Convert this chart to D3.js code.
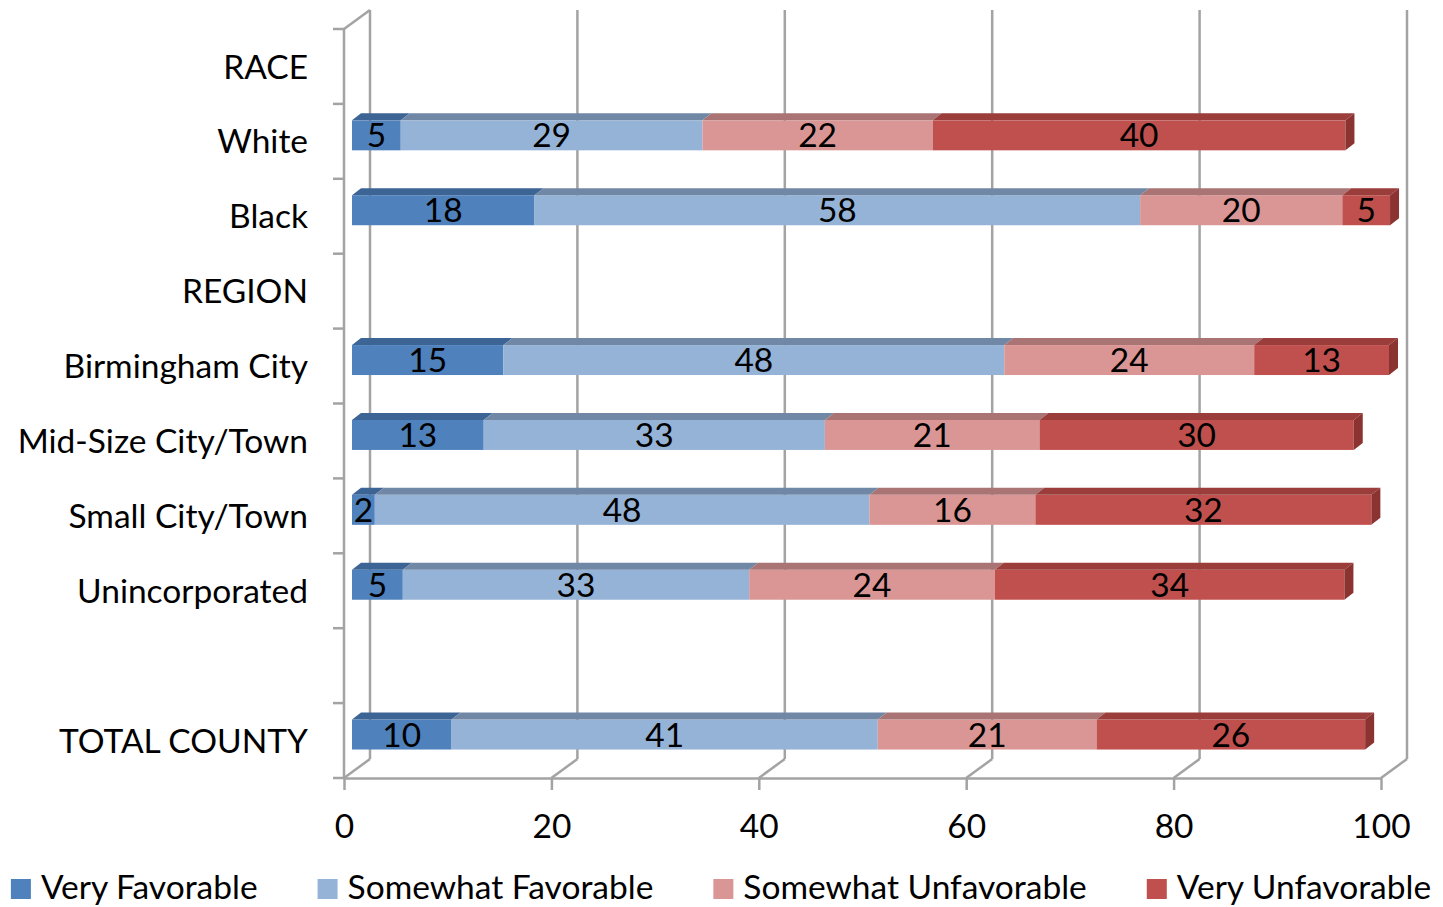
<!DOCTYPE html>
<html>
<head>
<meta charset="utf-8">
<script src="https://cdn.jsdelivr.net/npm/d3@7"></script>
<style>
    body { margin: 0; background: #fff; }
    svg text { font-family: Lato, "Open Sans", sans-serif; fill: #000; }
</style>
</head>
<body>
<svg width="1443" height="907"></svg>
<script>
// values (percent)
var categories = ["RACE", "White", "Black", "REGION", "Birmingham City", "Mid-Size City/Town",
                  "Small City/Town", "Unincorporated", "", "TOTAL COUNTY"];
var veryFavorable       = [null, 4.7, 17.6, null, 14.6, 12.7, 2.2, 4.9, null, 9.6];
var somewhatFavorable   = [null, 29.1, 58.4, null, 48.3, 32.9, 47.7, 33.4, null, 41.1];
var somewhatUnfavorable = [null, 22.2, 19.5, null, 24.1, 20.7, 16.0, 23.7, null, 21.1];
var veryUnfavorable     = [null, 39.8, 4.6, null, 13.0, 30.3, 32.4, 33.7, null, 25.9];
var seriesNames = ["Very Favorable", "Somewhat Favorable", "Somewhat Unfavorable", "Very Unfavorable"];
var xTicks = [0, 20, 40, 60, 80, 100];

var colors = {
    front: ["#4f81bd", "#95b3d7", "#da9694", "#c0504d"],
    top:   ["#3c6596", "#7087a6", "#a97473", "#9a3d3b"],
    side:  ["#345782", "#647a96", "#955f5e", "#8a3331"]
};

var fontSize = "33.5px";

function drawChart() {
    var svg = d3.select("svg");

    // oblique depth of the walls and of the bars
    var wallDx = 26, wallDy = -19;
    var barOffX = 8, barOffY = -6;
    var barDx = 9, barDy = -7;

    var x = d3.scaleLinear().domain([0, 100]).range([344, 1381]);
    var y = d3.scaleBand().domain(categories).range([29, 778]);
    var bw = y.bandwidth();
    var barH = bw * 0.4;

    var grid = "#a3a3a3";

    // back wall gridlines
    svg.append("g").selectAll("line")
        .data(xTicks)
        .enter().append("line")
        .attr("x1", function(d) { return x(d) + wallDx; })
        .attr("x2", function(d) { return x(d) + wallDx; })
        .attr("y1", y.range()[0] + wallDy)
        .attr("y2", y.range()[1] + wallDy)
        .attr("stroke", grid).attr("stroke-width", 2.5);

    // floor diagonals
    svg.append("g").selectAll("line")
        .data(xTicks)
        .enter().append("line")
        .attr("x1", function(d) { return x(d); })
        .attr("x2", function(d) { return x(d) + wallDx; })
        .attr("y1", y.range()[1])
        .attr("y2", y.range()[1] + wallDy)
        .attr("stroke", grid).attr("stroke-width", 2.5);

    // top-left diagonal of the side wall
    svg.append("line")
        .attr("x1", x(0)).attr("y1", y.range()[0])
        .attr("x2", x(0) + wallDx).attr("y2", y.range()[0] + wallDy)
        .attr("stroke", grid).attr("stroke-width", 2.5);

    // value axis
    var xAxis = svg.append("g")
        .attr("transform", "translate(0," + y.range()[1] + ")")
        .call(d3.axisBottom(x).tickValues(xTicks).tickSize(12).tickPadding(24).tickSizeOuter(0));
    xAxis.select(".domain").attr("stroke", grid).attr("stroke-width", 2.5);
    xAxis.selectAll(".tick line").attr("stroke", grid).attr("stroke-width", 2.5);
    xAxis.selectAll("text").attr("font-size", fontSize).attr("fill", "#000")
        .attr("font-family", "Lato, 'Open Sans', sans-serif");

    // category axis
    var boundaries = d3.range(categories.length + 1).map(function(i) { return y.range()[0] + i * bw; });
    svg.append("line")
        .attr("x1", x(0)).attr("x2", x(0))
        .attr("y1", y.range()[0]).attr("y2", y.range()[1])
        .attr("stroke", grid).attr("stroke-width", 2.5);
    svg.append("g").selectAll("line")
        .data(boundaries)
        .enter().append("line")
        .attr("x1", x(0) - 11).attr("x2", x(0))
        .attr("y1", function(d) { return d; })
        .attr("y2", function(d) { return d; })
        .attr("stroke", grid).attr("stroke-width", 2.5);
    svg.append("g").selectAll("text")
        .data(categories)
        .enter().append("text")
        .attr("x", 308)
        .attr("y", function(d) { return y(d) + bw / 2; })
        .attr("dy", "0.36em")
        .attr("text-anchor", "end")
        .attr("font-size", fontSize)
        .text(function(d) { return d; });

    // stacked bars
    var table = categories.map(function(c, i) {
        return {cat: c, vf: veryFavorable[i], sf: somewhatFavorable[i],
                su: somewhatUnfavorable[i], vu: veryUnfavorable[i]};
    }).filter(function(d) { return d.vf !== null; });

    var keys = ["vf", "sf", "su", "vu"];
    var stack = d3.stack().keys(keys);
    var layers = stack(table);

    function frontTop(d) { return y(d.data.cat) + (bw - barH) / 2 + barOffY; }
    function px(v) { return x(v) + barOffX; }

    var barG = svg.append("g");
    layers.forEach(function(layer, li) {
        var g = barG.append("g");
        g.selectAll("rect")
            .data(layer)
            .enter().append("rect")
            .attr("x", function(d) { return px(d[0]); })
            .attr("y", frontTop)
            .attr("width", function(d) { return px(d[1]) - px(d[0]); })
            .attr("height", barH)
            .attr("fill", colors.front[li]);
        g.selectAll("path.top")
            .data(layer)
            .enter().append("path")
            .attr("class", "top")
            .attr("fill", colors.top[li])
            .attr("d", function(d) {
                var t = frontTop(d), x0 = px(d[0]), x1 = px(d[1]);
                return "M" + x0 + "," + t + "L" + (x0 + barDx) + "," + (t + barDy) +
                    "L" + (x1 + barDx) + "," + (t + barDy) + "L" + x1 + "," + t + "Z";
            });
        if (li === layers.length - 1) {
            g.selectAll("path.side")
                .data(layer)
                .enter().append("path")
                .attr("class", "side")
                .attr("fill", colors.side[li])
                .attr("d", function(d) {
                    var t = frontTop(d), x1 = px(d[1]);
                    return "M" + x1 + "," + t + "L" + (x1 + barDx) + "," + (t + barDy) +
                        "L" + (x1 + barDx) + "," + (t + barH + barDy) + "L" + x1 + "," + (t + barH) + "Z";
                });
        }
    });

    // data labels
    layers.forEach(function(layer) {
        barG.append("g").selectAll("text")
            .data(layer)
            .enter().append("text")
            .attr("x", function(d) { return (px(d[0]) + px(d[1])) / 2; })
            .attr("y", function(d) { return frontTop(d) + barH / 2; })
            .attr("dy", "0.36em")
            .attr("text-anchor", "middle")
            .attr("font-size", fontSize)
            .text(function(d) { return Math.round(d[1] - d[0]); });
    });

    // legend, centred under the chart
    var legend = svg.append("g");
    var items = legend.selectAll("g")
        .data(seriesNames)
        .enter().append("g");
    items.append("rect")
        .attr("width", 20).attr("height", 20)
        .attr("y", -20)
        .attr("fill", function(d, i) { return colors.front[i]; });
    items.append("text")
        .attr("x", 30)
        .attr("font-size", fontSize)
        .text(function(d) { return d; });

    var pos = 0, gap = 60;
    items.each(function() {
        var w = 30 + d3.select(this).select("text").node().getComputedTextLength();
        d3.select(this).attr("transform", "translate(" + pos + ",0)");
        pos += w + gap;
    });
    var total = pos - gap;
    legend.attr("transform", "translate(" + (721 - total / 2) + ",899)");
    console.log("legend width", total);
}

window.onload = function() {
    drawChart();
};
</script>
</body>
</html>
